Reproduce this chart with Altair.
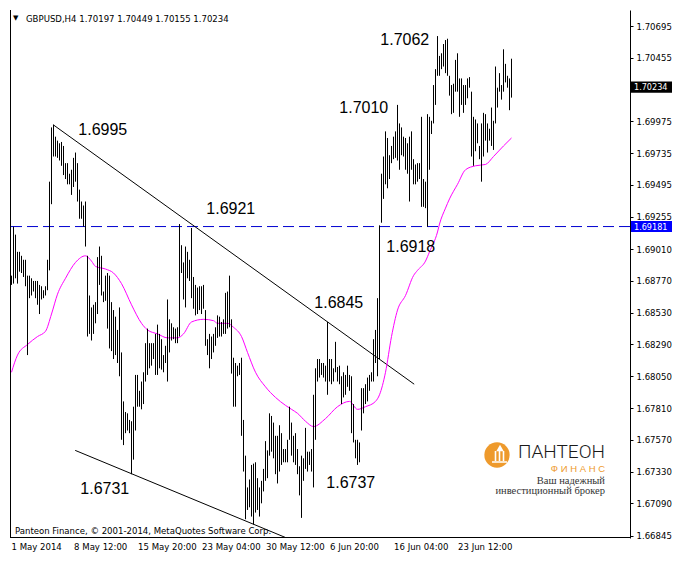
import altair as alt
import pandas as pd

# ---------------- data ----------------
SYMBOL = "GBPUSD,H4"
LAST_OHLC = [1.70197, 1.70449, 1.70155, 1.70234]
LEVEL = 1.69181

HIGH = [
    1.6881, 1.6918, 1.6912, 1.6899, 1.6899, 1.6896, 1.6893, 1.6893, 1.6881, 1.6881,
    1.6879, 1.6877, 1.6877, 1.6877, 1.6874, 1.6873, 1.6870, 1.6873, 1.6893, 1.6952,
    1.6993, 1.6995, 1.6986, 1.6983, 1.6981, 1.6982, 1.6979, 1.6966, 1.6966, 1.6958,
    1.6961, 1.6970, 1.6974, 1.6966, 1.6946, 1.6937, 1.6934, 1.6937, 1.6896, 1.6866,
    1.6857, 1.6859, 1.6861, 1.6895, 1.6903, 1.6896, 1.6869, 1.6881, 1.6883, 1.6881,
    1.6861, 1.6855, 1.6850, 1.6840, 1.6857, 1.6823, 1.6786, 1.6778, 1.6777, 1.6772,
    1.6771, 1.6782, 1.6806, 1.6806, 1.6794, 1.6801, 1.6808, 1.6830, 1.6841, 1.6830,
    1.6830, 1.6830, 1.6837, 1.6844, 1.6837, 1.6833, 1.6821, 1.6828, 1.6863, 1.6848,
    1.6845, 1.6842, 1.6841, 1.6842, 1.6920, 1.6904, 1.6891, 1.6903, 1.6899, 1.6893,
    1.6917, 1.6880, 1.6874, 1.6872, 1.6873, 1.6873, 1.6874, 1.6855, 1.6833, 1.6837,
    1.6835, 1.6837, 1.6842, 1.6851, 1.6850, 1.6846, 1.6848, 1.6868, 1.6869, 1.6881,
    1.6848, 1.6819, 1.6815, 1.6813, 1.6815, 1.6819, 1.6772, 1.6745, 1.6721, 1.6727,
    1.6738, 1.6739, 1.6740, 1.6728, 1.6721, 1.6726, 1.6735, 1.6756, 1.6749, 1.6777,
    1.6775, 1.6770, 1.6760, 1.6760, 1.6768, 1.6762, 1.6750, 1.6750, 1.6757, 1.6782,
    1.6770, 1.6760, 1.6762, 1.6750, 1.6737, 1.6745, 1.6743, 1.6766, 1.6748, 1.6748,
    1.6750, 1.6791, 1.6811, 1.6818, 1.6818, 1.6815, 1.6815, 1.6813, 1.6846, 1.6818,
    1.6818, 1.6811, 1.6831, 1.6812, 1.6813, 1.6805, 1.6808, 1.6806, 1.6813, 1.6806,
    1.6805, 1.6784, 1.6757, 1.6757, 1.6755, 1.6796, 1.6796, 1.6799, 1.6804, 1.6806,
    1.6808, 1.6833, 1.6840, 1.6864, 1.6919, 1.6958, 1.6971, 1.6990, 1.6985, 1.6972,
    1.6979, 1.6986, 1.6990, 1.7010, 1.6996, 1.6993, 1.6986, 1.6985, 1.6981, 1.6986,
    1.6990, 1.6969, 1.6965, 1.6966, 1.6966, 1.7001, 1.6954, 1.6952, 1.7003, 1.7001,
    1.6998, 1.7025, 1.7037, 1.7062, 1.7047, 1.7049, 1.7056, 1.7059, 1.7060, 1.7032,
    1.7025, 1.7026, 1.7044, 1.7049, 1.7030, 1.7030, 1.7025, 1.7025, 1.7030, 1.7031,
    1.7020, 1.7001, 1.6999, 1.6996, 1.6979, 1.6996, 1.7004, 1.7003, 1.6996, 1.6992,
    1.7008, 1.6998, 1.7039, 1.7023, 1.7034, 1.7025, 1.7052, 1.7041, 1.7032, 1.7030,
    1.70449,
]
LOW = [
    1.6874, 1.6875, 1.6879, 1.6875, 1.6884, 1.6883, 1.6880, 1.6873, 1.6821, 1.6864,
    1.6866, 1.6869, 1.6864, 1.6859, 1.6852, 1.6863, 1.6864, 1.6866, 1.6870, 1.6885,
    1.6935, 1.6971, 1.6971, 1.6970, 1.6968, 1.6964, 1.6957, 1.6954, 1.6950, 1.6950,
    1.6942, 1.6948, 1.6952, 1.6937, 1.6924, 1.6924, 1.6918, 1.6903, 1.6835, 1.6837,
    1.6832, 1.6837, 1.6845, 1.6852, 1.6874, 1.6866, 1.6861, 1.6862, 1.6841, 1.6826,
    1.6824, 1.6818, 1.6821, 1.6815, 1.6805, 1.6757, 1.6753, 1.6762, 1.6764, 1.6762,
    1.6731, 1.6742, 1.6764, 1.6782, 1.6782, 1.6780, 1.6784, 1.6801, 1.6806, 1.6811,
    1.6813, 1.6818, 1.6806, 1.6806, 1.6811, 1.6810, 1.6808, 1.6815, 1.6801, 1.6823,
    1.6832, 1.6833, 1.6830, 1.6830, 1.6835, 1.6883, 1.6863, 1.6857, 1.6879, 1.6877,
    1.6864, 1.6856, 1.6851, 1.6852, 1.6855, 1.6852, 1.6856, 1.6828, 1.6821, 1.6811,
    1.6818, 1.6823, 1.6828, 1.6834, 1.6835, 1.6835, 1.6837, 1.6837, 1.6841, 1.6842,
    1.6807, 1.6782, 1.6782, 1.6805, 1.6806, 1.6760, 1.6733, 1.6697, 1.6704, 1.6706,
    1.6699, 1.6693, 1.6702, 1.6704, 1.6699, 1.6709, 1.6718, 1.6726, 1.6728, 1.6745,
    1.6748, 1.6743, 1.6731, 1.6724, 1.6733, 1.6738, 1.6740, 1.6740, 1.6740, 1.6757,
    1.6745, 1.6740, 1.6738, 1.6731, 1.6715, 1.6698, 1.6726, 1.6735, 1.6733, 1.6738,
    1.6733, 1.6721, 1.6757, 1.6801, 1.6804, 1.6806, 1.6804, 1.6801, 1.6791, 1.6801,
    1.6799, 1.6801, 1.6808, 1.6801, 1.6799, 1.6784, 1.6789, 1.6791, 1.6797, 1.6794,
    1.6762, 1.6755, 1.6743, 1.6738, 1.6740, 1.6764, 1.6777, 1.6784, 1.6786, 1.6794,
    1.6801, 1.6801, 1.6815, 1.6805, 1.6818, 1.6921, 1.6939, 1.6950, 1.6947, 1.6954,
    1.6966, 1.6969, 1.6970, 1.6968, 1.6961, 1.6972, 1.6971, 1.6961, 1.6958, 1.6937,
    1.6961, 1.6950, 1.6950, 1.6952, 1.6954, 1.6933, 1.6933, 1.6932, 1.6918, 1.6961,
    1.6988, 1.6996, 1.7010, 1.7032, 1.7032, 1.7037, 1.7039, 1.7034, 1.7032, 1.7017,
    1.7003, 1.7004, 1.7020, 1.7020, 1.7001, 1.7010, 1.7004, 1.7010, 1.7015, 1.7023,
    1.6971, 1.6964, 1.6975, 1.6981, 1.6969, 1.6952, 1.6971, 1.6983, 1.6974, 1.6983,
    1.6979, 1.6976, 1.6996, 1.7008, 1.7020, 1.7014, 1.7020, 1.7027, 1.7023, 1.7006,
    1.70155,
]

MA_BAR = [0, 3, 8, 13, 17, 20, 23, 27, 32, 37, 40, 42, 47, 51, 55, 60, 65, 68, 73, 78,
          83, 86, 90, 96, 101, 103, 108, 111, 115, 118, 122, 127, 132, 137, 140, 143, 147, 151, 157, 163,
          169, 173, 177, 182, 184, 187, 190, 193, 197, 201, 203, 207, 209, 213, 214, 217, 219, 223, 227, 232,
          237, 241, 246, 250]
MA_VAL = [1.6808, 1.6821, 1.6829, 1.6835, 1.6839, 1.6852, 1.6867, 1.6879, 1.6891, 1.6896,
          1.6892, 1.6888, 1.6886, 1.6883, 1.6875, 1.6859, 1.6845, 1.6840, 1.6837, 1.6834,
          1.6834, 1.6837, 1.6846, 1.6848, 1.6847, 1.6845, 1.6845, 1.6842, 1.6835, 1.6823,
          1.6808, 1.6797, 1.6789, 1.6783, 1.6780, 1.6777, 1.6771, 1.6767, 1.6773, 1.6782,
          1.6786, 1.6780, 1.6782, 1.6786, 1.6791, 1.6808, 1.6835, 1.6855, 1.6866, 1.6881,
          1.6885, 1.6892, 1.6899, 1.6914, 1.6920, 1.6932, 1.6939, 1.6950, 1.6961, 1.6964,
          1.6965, 1.6971, 1.6979, 1.6985]

# trend lines: start bar, start price, end bar, end price
TREND_B1 = [20.85, 31.85]
TREND_P1 = [1.6995, 1.6749]
TREND_B2 = [201.35, 137.6]
TREND_P2 = [1.6799, 1.66828]

ANN_TEXT = ["1.6995", "1.6921", "1.6845", "1.6918", "1.7010", "1.7062", "1.6731", "1.6737"]
ANN_BAR = [33.4, 97.4, 151.4, 187.4, 163.9, 184.4, 34.4, 157.4]
ANN_PRICE = [1.6991, 1.6931, 1.6860, 1.6903, 1.7008, 1.7059, 1.6720, 1.6724]

TIME_LABELS = ["1 May 2014", "8 May 12:00", "15 May 20:00", "23 May 04:00",
               "30 May 12:00", "6 Jun 20:00", "16 Jun 04:00", "23 Jun 12:00"]
TIME_BAR = [0, 31.3, 63.3, 95.3, 127.3, 159.3, 191.3, 223.3]

Y_TICKS = [1.70695, 1.70455, 1.69975, 1.69735, 1.69495, 1.69255, 1.69010, 1.68770,
           1.68530, 1.68290, 1.68050, 1.67810, 1.67570, 1.67330, 1.67090, 1.66845]

COPYRIGHT = "Panteon Finance, © 2001-2014, MetaQuotes Software Corp."

# ---------------- layout ----------------
W, H = 620, 528
SMALL = "DejaVu Sans Condensed, Liberation Sans, sans-serif"
SZ = 9.5
xs = alt.Scale(domain=[-0.75, 309.25], nice=False, zero=False)
ys = alt.Scale(domain=[1.66828, 1.70817], nice=False, zero=False)
YAX = alt.Axis(
    orient="right", values=Y_TICKS, format=".5f", title=None, grid=False,
    domain=True, domainColor="black", domainWidth=1, ticks=True, tickColor="black",
    tickSize=3, tickWidth=1, labelPadding=3, labelFont=SMALL, labelFontSize=SZ,
    labelColor="black", labelOverlap=False, labelFlush=False)


def X(f):
    return alt.X(f, type="quantitative", scale=xs, axis=None)


def Y(f):
    return alt.Y(f, type="quantitative", scale=ys, axis=YAX)


one = pd.DataFrame({"a": [0]})

bars_df = pd.DataFrame({"bar": list(range(len(HIGH))), "high": HIGH, "low": LOW})
bars = alt.Chart(bars_df).mark_rule(color="black", strokeWidth=1).encode(
    x=X("bar"), y=Y("high"), y2="low:Q")

ma_df = pd.DataFrame({"bar": MA_BAR, "ma": MA_VAL})
ma = alt.Chart(ma_df).mark_line(color="#ff00ff", strokeWidth=1, interpolate="monotone").encode(
    x=X("bar"), y=Y("ma"))

trend_df = pd.DataFrame({"b1": TREND_B1, "p1": TREND_P1, "b2": TREND_B2, "p2": TREND_P2})
trend = alt.Chart(trend_df).mark_rule(color="black", strokeWidth=1, clip=True).encode(
    x=X("b1"), x2="b2:Q", y=Y("p1"), y2="p2:Q")

level_df = pd.DataFrame({"p": [LEVEL]})
level = alt.Chart(level_df).mark_rule(color="#0000d0", strokeWidth=1, strokeDash=[11, 5]).encode(
    y=Y("p"))

ann_df = pd.DataFrame({"t": ANN_TEXT, "bar": ANN_BAR, "p": ANN_PRICE})
ann = alt.Chart(ann_df).mark_text(align="left", baseline="middle", font="Liberation Sans",
                                  fontSize=16, color="black").encode(
    x=X("bar"), y=Y("p"), text="t:N")

time_df = pd.DataFrame({"t": TIME_LABELS, "bar": TIME_BAR})
times = alt.Chart(time_df).mark_text(align="left", baseline="top", font=SMALL, fontSize=SZ,
                                     color="black").encode(
    x=X("bar"), y=alt.value(H + 4), text="t:N")

box_df = pd.DataFrame({"p": [LAST_OHLC[3], LEVEL],
                       "label": [f"{LAST_OHLC[3]:.5f}", f"{LEVEL:.5f}"],
                       "c": ["#000000", "#0000ff"]})
boxes = alt.Chart(box_df).transform_calculate(
    top="datum.p + 0.00042", bot="datum.p - 0.00042"
).mark_rect().encode(
    x=alt.value(W + 1), x2=alt.value(W + 42), y=Y("top"), y2="bot:Q",
    color=alt.Color("c:N", scale=None))
box_text = alt.Chart(box_df).mark_text(align="left", baseline="middle", font=SMALL,
                                       fontSize=9, color="white").encode(
    x=alt.value(W + 4), y=Y("p"), text="label:N")

head_df = pd.DataFrame({"t": [SYMBOL + "  " + " ".join(f"{v:.5f}" for v in LAST_OHLC)]})
head = alt.Chart(head_df).mark_text(align="left", baseline="alphabetic", font=SMALL,
                                    fontSize=SZ, color="black").encode(
    x=alt.value(16), y=alt.value(12), text="t:N")
tri = alt.Chart(pd.DataFrame({"t": ["▼"]})).mark_text(
    align="left", baseline="middle", font="DejaVu Sans", fontSize=7, color="black").encode(
    x=alt.value(3), y=alt.value(8), text="t:N")

copy = alt.Chart(pd.DataFrame({"t": [COPYRIGHT]})).mark_text(
    align="left", baseline="alphabetic", font=SMALL, fontSize=SZ, color="black").encode(
    x=alt.value(5), y=alt.value(524), text="t:N")

# frame
frame_left = alt.Chart(one).mark_rule(color="black", strokeWidth=1).encode(
    x=alt.value(0.5), y=alt.value(0), y2=alt.value(H))
frame_bottom = alt.Chart(one).mark_rule(color="black", strokeWidth=1).encode(
    x=alt.value(0), x2=alt.value(W), y=alt.value(H - 0.5))

# logo
ORANGE = "#ee9a2c"
logo_circle = alt.Chart(one).mark_circle(size=640, color=ORANGE, opacity=1).encode(
    x=alt.value(487), y=alt.value(445))
logo_roof = alt.Chart(one).mark_point(shape="triangle-up", filled=True, color="white",
                                      size=55, opacity=1).encode(
    x=alt.value(490), y=alt.value(438))
logo_cols = [alt.Chart(one).mark_rule(color="white", strokeWidth=1.6).encode(
    x=alt.value(cx), y=alt.value(441), y2=alt.value(451)) for cx in (485.5, 489.5, 493.5)]
logo_base = alt.Chart(one).mark_rule(color="white", strokeWidth=1.5).encode(
    x=alt.value(482), x2=alt.value(497), y=alt.value(452))
logo_name = alt.Chart(pd.DataFrame({"t": ["ПАНТЕОН"]})).mark_text(
    align="right", baseline="alphabetic", font="Roboto, DejaVu Sans", fontWeight=300,
    fontSize=19, color="#1a1a1a").encode(x=alt.value(595), y=alt.value(448), text="t:N")
logo_fin = alt.Chart(pd.DataFrame({"t": ["Ф   И   Н   А   Н   С"]})).mark_text(
    align="right", baseline="alphabetic", font="Liberation Sans", fontSize=9.5,
    color=ORANGE).encode(x=alt.value(595), y=alt.value(462), text="t:N")
logo_l1 = alt.Chart(pd.DataFrame({"t": ["Ваш надежный"]})).mark_text(
    align="right", baseline="alphabetic", font="Liberation Serif", fontSize=10.5,
    color="#333333").encode(x=alt.value(595), y=alt.value(473.5), text="t:N")
logo_l2 = alt.Chart(pd.DataFrame({"t": ["инвестиционный брокер"]})).mark_text(
    align="right", baseline="alphabetic", font="Liberation Serif", fontSize=10.5,
    color="#333333").encode(x=alt.value(595), y=alt.value(484), text="t:N")

chart = alt.layer(
    level, trend, ma, bars, ann, times, boxes, box_text, head, tri, copy,
    frame_left, frame_bottom,
    logo_circle, logo_roof, *logo_cols, logo_base, logo_name, logo_fin, logo_l1, logo_l2,
).properties(
    width=W, height=H,
    padding={"left": 1, "top": 1, "right": 0, "bottom": 0},
    background="white",
).configure_view(stroke="transparent")

chart.save("out.html", embed_options={"renderer": "svg", "actions": False})
